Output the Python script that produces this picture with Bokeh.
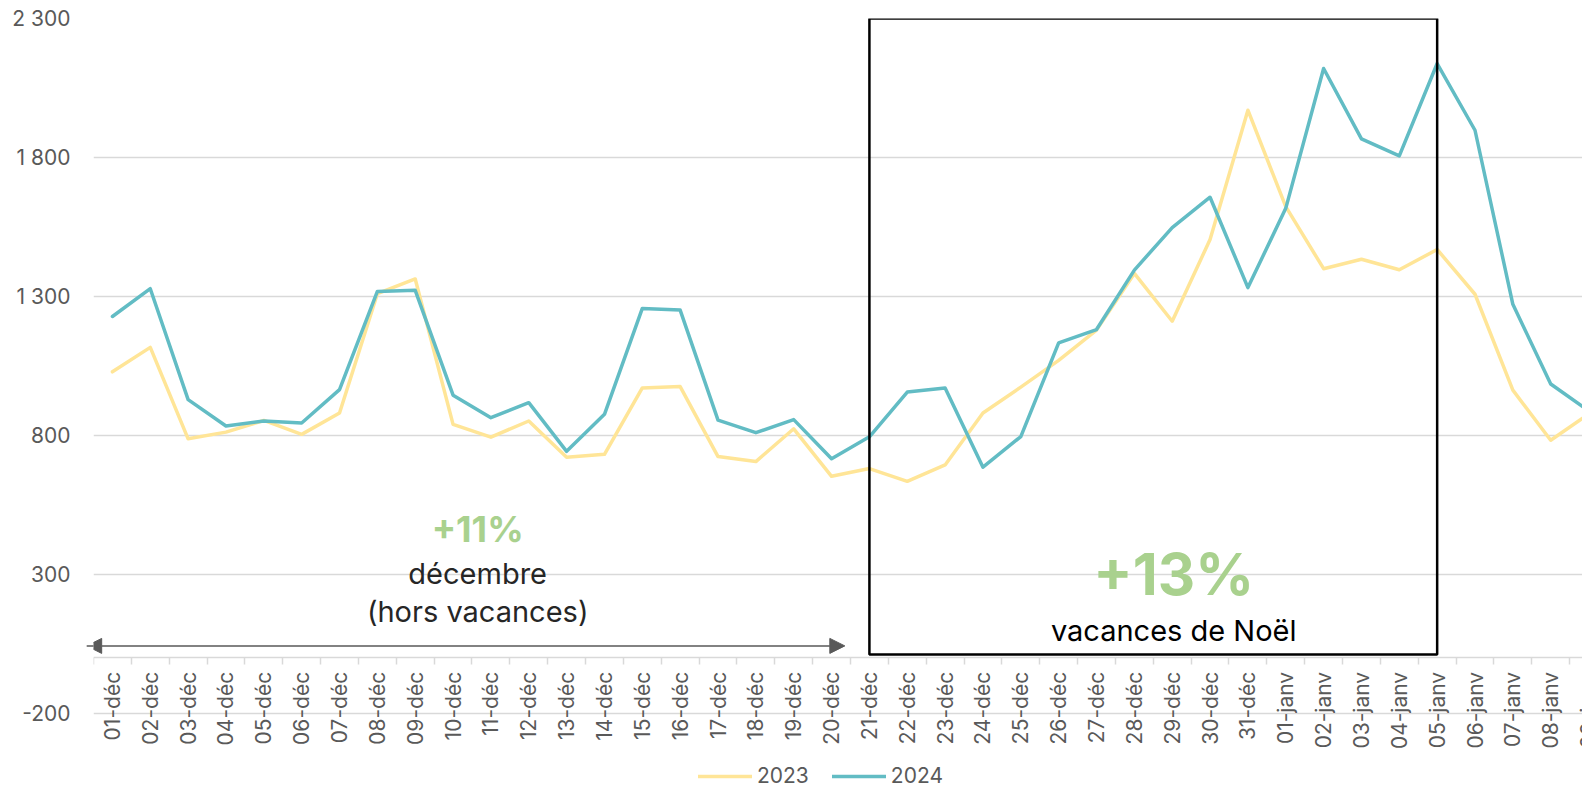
import math
from bokeh.plotting import figure
from bokeh.models import (Range1d, LinearAxis, FixedTicker, Legend, LegendItem,
                          Label, Arrow, NormalHead, BoxAnnotation, ColumnDataSource)
from bokeh.core.properties import value
from bokeh.embed import file_html
from bokeh.resources import INLINE

# ---------------- data ----------------
days = ["01-déc", "02-déc", "03-déc", "04-déc", "05-déc", "06-déc", "07-déc",
        "08-déc", "09-déc", "10-déc", "11-déc", "12-déc", "13-déc", "14-déc",
        "15-déc", "16-déc", "17-déc", "18-déc", "19-déc", "20-déc", "21-déc",
        "22-déc", "23-déc", "24-déc", "25-déc", "26-déc", "27-déc", "28-déc",
        "29-déc", "30-déc", "31-déc", "01-janv", "02-janv", "03-janv",
        "04-janv", "05-janv", "06-janv", "07-janv", "08-janv", "09-janv"]

y2023 = [1029, 1117, 788, 812, 854, 804, 881, 1310, 1363, 840,
         794, 852, 722, 732, 971, 976, 724, 706, 824, 653,
         681, 635, 694, 881, 974, 1070, 1179, 1383, 1211, 1505,
         1970, 1623, 1400, 1434, 1396, 1469, 1308, 963, 783, 877]

y2024 = [1228, 1328, 929, 834, 852, 845, 965, 1318, 1322, 945,
         864, 918, 743, 876, 1257, 1251, 855, 810, 857, 716,
         795, 956, 971, 686, 796, 1133, 1181, 1395, 1548, 1657,
         1332, 1617, 2120, 1867, 1806, 2138, 1898, 1272, 985, 889]

series_names = ["2023", "2024"]
y_ticks = [-200, 300, 800, 1300, 1800, 2300]
y_tick_labels = ["-200", "300", "800", "1 300", "1 800", "2 300"]

# annotation texts
dec_pct = "+11%"
dec_lines = ["décembre", "(hors vacances)"]
noel_pct = "+13%"
noel_text = "vacances de Noël"

# ---------------- styling ----------------
FONT = "Inter"
C2023 = "#FFE597"
C2024 = "#62BCC4"
GREEN = "#A9D18E"
GRID = "#D9D9D9"
TXT = "#595959"

n = len(days)
xc = [i + 0.5 for i in range(n)]

p = figure(width=1582, height=788,
           x_range=Range1d(0, 39.34), y_range=Range1d(-470, 2300),
           x_axis_type=None, output_backend="svg", toolbar_location=None,
           min_border_left=93, min_border_right=0, min_border_top=18,
           min_border_bottom=0)
p.outline_line_color = None
p.background_fill_color = "white"

# y axis
p.yaxis.ticker = FixedTicker(ticks=y_ticks)
p.yaxis.major_label_overrides = {t: l for t, l in zip(y_ticks, y_tick_labels)}
p.yaxis.axis_line_color = None
p.yaxis.major_tick_line_color = None
p.yaxis.minor_tick_line_color = None
p.yaxis.major_label_text_font = FONT
p.yaxis.major_label_text_font_size = "21px"
p.yaxis.major_label_text_color = TXT
p.yaxis.major_label_standoff = 17
p.ygrid.ticker = FixedTicker(ticks=y_ticks)
p.ygrid.grid_line_color = GRID
p.ygrid.grid_line_width = 1.5

# category axis line at y = 0, tick marks on category boundaries (pointing down)
ax_ticks = LinearAxis(ticker=FixedTicker(ticks=list(range(n + 1))),
                      fixed_location=0)
ax_ticks.axis_line_color = GRID
ax_ticks.axis_line_width = 1.5
ax_ticks.major_tick_line_color = GRID
ax_ticks.major_tick_line_width = 1.5
ax_ticks.major_tick_out = 0
ax_ticks.major_tick_in = 7
ax_ticks.minor_tick_line_color = None
ax_ticks.major_label_text_alpha = 0
ax_ticks.major_label_text_font_size = "0px"
ax_ticks.major_label_standoff = 0
p.add_layout(ax_ticks, "above")

# category labels at the centres, hanging under the y = 0 axis
lab_src = ColumnDataSource(dict(x=xc, y=[0] * n, text=days))
p.text(x="x", y="y", text="text", source=lab_src, angle=math.pi / 2,
       text_align="right", text_baseline="middle", y_offset=14,
       text_font=value(FONT), text_font_size="21px", text_color=TXT)

# lines
r23 = p.line(xc, y2023, line_color=C2023, line_width=3.5,
             line_join="round", line_cap="round")
r24 = p.line(xc, y2024, line_color=C2024, line_width=3.5,
             line_join="round", line_cap="round")

# holiday box
box = BoxAnnotation(left=20.5, right=35.5, top=2300, bottom=12,
                    fill_alpha=0, line_color="black", line_alpha=1,
                    line_width=2.5)
p.add_layout(box)

# december arrow
arrow = Arrow(x_start=-0.18, y_start=43, x_end=19.85, y_end=43,
              line_color="#595959", line_width=1.5,
              start=NormalHead(size=15, fill_color="#595959", line_color="#595959"),
              end=NormalHead(size=15, fill_color="#595959", line_color="#595959"))
p.add_layout(arrow)

# texts
p.add_layout(Label(x=10.15, y=462, text=dec_pct, text_font=FONT,
                   text_font_size="36px", text_font_style="bold",
                   text_color=GREEN, text_align="center", text_baseline="middle"))
p.add_layout(Label(x=10.15, y=305, text=dec_lines[0], text_font=FONT,
                   text_font_size="29px", text_color="#262626",
                   text_align="center", text_baseline="middle"))
p.add_layout(Label(x=10.15, y=166, text=dec_lines[1], text_font=FONT,
                   text_font_size="29px", text_color="#262626",
                   text_align="center", text_baseline="middle"))
p.add_layout(Label(x=28.54, y=300, text=noel_pct, text_font=FONT,
                   text_font_size="58px", text_font_style="bold",
                   text_color=GREEN, text_align="center", text_baseline="middle"))
p.add_layout(Label(x=28.54, y=97, text=noel_text, text_font=FONT,
                   text_font_size="29px", text_color="black",
                   text_align="center", text_baseline="middle"))

# legend at the bottom of the plot area
legend = Legend(items=[LegendItem(label=series_names[0], renderers=[r23]),
                       LegendItem(label=series_names[1], renderers=[r24])],
                orientation="horizontal", location=(605, 0),
                glyph_width=54, glyph_height=20, label_standoff=5, spacing=23,
                padding=0, margin=0, border_line_color=None,
                background_fill_alpha=0,
                label_text_font=FONT, label_text_font_size="21px",
                label_text_color=TXT)
p.add_layout(legend)

open("out.html", "w").write(file_html(p, INLINE))
